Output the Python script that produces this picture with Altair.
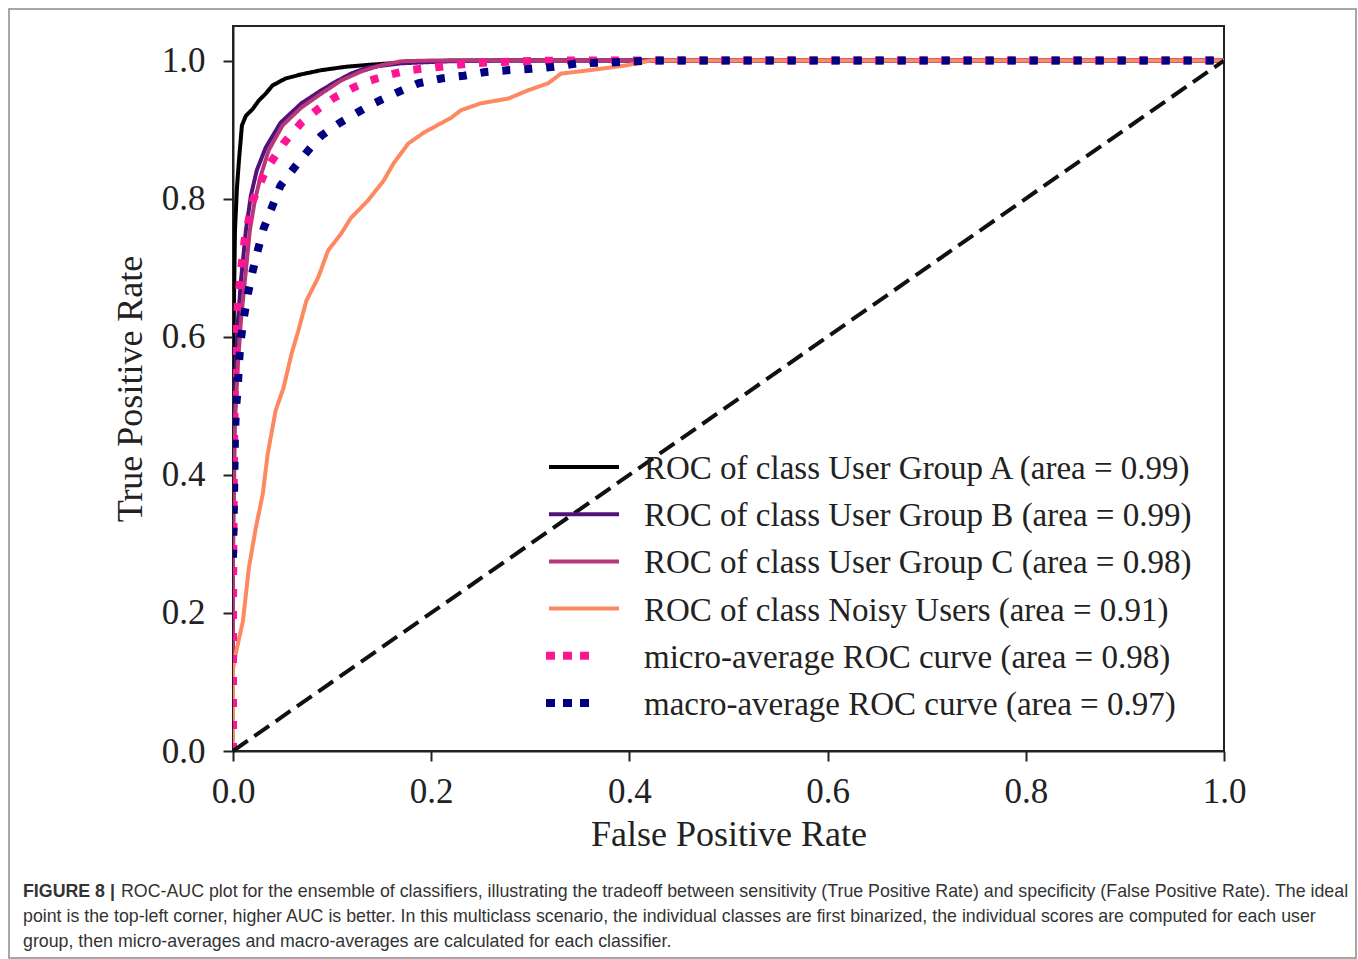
import altair as alt
import pandas as pd

# ROC curves of the ensemble: false positive rate / true positive rate per series
series_labels = [
    "ROC of class User Group A (area = 0.99)",
    "ROC of class User Group B (area = 0.99)",
    "ROC of class User Group C (area = 0.98)",
    "ROC of class Noisy Users (area = 0.91)",
    "micro-average ROC curve (area = 0.98)",
    "macro-average ROC curve (area = 0.97)",
]

fpr_a = [0.0, 0.0, 0.001, 0.002, 0.004, 0.006, 0.009, 0.013, 0.020, 0.026, 0.033, 0.040,
         0.053, 0.069, 0.089, 0.114, 0.139, 0.170, 0.220, 1.0]
tpr_a = [0.0, 0.507, 0.652, 0.754, 0.816, 0.855, 0.906, 0.920, 0.930, 0.942, 0.952, 0.964,
         0.974, 0.980, 0.986, 0.991, 0.994, 0.997, 1.0, 1.0]

fpr_b = [0.0, 0.0, 0.001, 0.003, 0.005, 0.008, 0.013, 0.018, 0.024, 0.033, 0.048, 0.069,
         0.086, 0.102, 0.119, 0.136, 0.170, 0.220, 0.270, 1.0]
tpr_b = [0.0, 0.362, 0.478, 0.561, 0.623, 0.681, 0.754, 0.804, 0.841, 0.874, 0.910, 0.938,
         0.954, 0.968, 0.981, 0.990, 0.996, 0.999, 1.0, 1.0]

fpr_c = [0.0, 0.0, 0.002, 0.005, 0.008, 0.012, 0.017, 0.022, 0.028, 0.036, 0.050, 0.069,
         0.089, 0.109, 0.129, 0.149, 0.170, 0.200, 1.0]
tpr_c = [0.0, 0.275, 0.478, 0.561, 0.623, 0.681, 0.754, 0.797, 0.833, 0.870, 0.906, 0.932,
         0.952, 0.971, 0.984, 0.993, 0.999, 1.0, 1.0]

fpr_noisy = [0.0, 0.0, 0.004, 0.010, 0.016, 0.023, 0.030, 0.035, 0.043, 0.051, 0.059, 0.066,
             0.074, 0.086, 0.096, 0.109, 0.119, 0.136, 0.152, 0.162, 0.177, 0.193, 0.220,
             0.230, 0.250, 0.278, 0.298, 0.318, 0.331, 0.371, 0.397, 0.422, 1.0]
tpr_noisy = [0.0, 0.120, 0.149, 0.188, 0.265, 0.323, 0.372, 0.430, 0.493, 0.526, 0.575, 0.609,
             0.652, 0.686, 0.725, 0.749, 0.772, 0.797, 0.826, 0.851, 0.880, 0.896, 0.917,
             0.928, 0.938, 0.945, 0.957, 0.967, 0.981, 0.988, 0.993, 1.0, 1.0]

fpr_micro = [0.0, 0.0, 0.001, 0.002, 0.003, 0.005, 0.008, 0.012, 0.020, 0.033, 0.051, 0.069,
             0.086, 0.102, 0.119, 0.136, 0.154, 0.177, 0.203, 0.240, 0.290, 0.330, 1.0]
tpr_micro = [0.0, 0.217, 0.435, 0.536, 0.594, 0.652, 0.696, 0.743, 0.797, 0.841, 0.880, 0.910,
             0.930, 0.946, 0.959, 0.970, 0.978, 0.986, 0.990, 0.996, 0.999, 1.0, 1.0]

fpr_macro = [0.0, 0.001, 0.002, 0.003, 0.005, 0.006, 0.008, 0.011, 0.015, 0.020, 0.025, 0.031,
             0.040, 0.048, 0.062, 0.076, 0.089, 0.107, 0.126, 0.142, 0.166, 0.187, 0.210,
             0.233, 0.253, 0.277, 0.301, 0.324, 0.348, 0.381, 0.422, 1.0]
tpr_macro = [0.280, 0.362, 0.459, 0.496, 0.529, 0.562, 0.597, 0.628, 0.662, 0.696, 0.725, 0.757,
             0.790, 0.819, 0.845, 0.870, 0.891, 0.909, 0.925, 0.938, 0.954, 0.967, 0.974,
             0.978, 0.983, 0.986, 0.988, 0.991, 0.996, 0.997, 1.0, 1.0]

chance_fpr = [0.0, 1.0]
chance_tpr = [0.0, 1.0]

line_colors = ["#000004", "#51127c", "#b73779", "#fc8961", "#ff1493", "#000080"]
dotted = [False, False, False, False, True, True]

caption_head = "FIGURE 8 |"
caption_lines = [
    "ROC-AUC plot for the ensemble of classifiers, illustrating the tradeoff between sensitivity "
    "(True Positive Rate) and specificity (False Positive Rate). The ideal",
    "point is the top-left corner, higher AUC is better. In this multiclass scenario, the individual "
    "classes are first binarized, the individual scores are computed for each user",
    "group, then micro-averages and macro-averages are calculated for each classifier.",
]

curves = [
    (fpr_a, tpr_a), (fpr_b, tpr_b), (fpr_c, tpr_c),
    (fpr_noisy, tpr_noisy), (fpr_micro, tpr_micro), (fpr_macro, tpr_macro),
]
rows = []
for label, (xs, ys) in zip(series_labels, curves):
    for i, (fx, ty) in enumerate(zip(xs, ys)):
        rows.append({"series": label, "fpr": fx, "tpr": ty, "step": i})
roc = pd.DataFrame(rows)

serif = "Liberation Serif"
tick_values = [0, 0.2, 0.4, 0.6, 0.8, 1.0]
x_enc = alt.X(
    "fpr:Q",
    scale=alt.Scale(domain=[0, 1.0], nice=False, zero=False),
    axis=alt.Axis(values=tick_values, format=".1f", title="False Positive Rate",
                  labelPadding=13, titlePadding=8, labelFlush=False),
)
y_enc = alt.Y(
    "tpr:Q",
    scale=alt.Scale(domain=[0, 1.05], nice=False, zero=False),
    axis=alt.Axis(values=tick_values, format=".1f", title="True Positive Rate",
                  labelPadding=18, titlePadding=12, labelFlush=False),
)

# one layer per curve, drawn in series order
curve_layers = []
for label, col, dot in zip(series_labels, line_colors, dotted):
    curve_layers.append(
        alt.Chart(roc)
        .transform_filter(alt.datum.series == label)
        .mark_line(color=col, strokeWidth=8 if dot else 4,
                   strokeDash=[8, 14] if dot else [1, 0], strokeCap="butt", clip=True)
        .encode(x=x_enc, y=y_enc, order=alt.Order("step:Q"))
    )

chance = (
    alt.Chart(pd.DataFrame({"fpr": chance_fpr, "tpr": chance_tpr}))
    .mark_line(color="#111111", strokeDash=[18, 8], strokeWidth=4, strokeCap="butt")
    .encode(x=x_enc, y=y_enc)
)
plot = alt.layer(*curve_layers, chance)

# legend drawn inside the axes
legend_df = pd.DataFrame({"series": series_labels, "dotted": dotted})
legend_y = alt.Y("series:N", axis=None,
                 scale=alt.Scale(type="point", domain=series_labels, range=[441, 677], padding=0))
legend_color = alt.Color("series:N", legend=None,
                         scale=alt.Scale(domain=series_labels, range=line_colors))
legend_solid = (
    alt.Chart(legend_df).transform_filter("!datum.dotted")
    .mark_rule(strokeWidth=4, strokeCap="butt")
    .encode(x=alt.value(316), x2=alt.value(386), y=legend_y, color=legend_color)
)
legend_dotted = (
    alt.Chart(legend_df).transform_filter("datum.dotted")
    .mark_rule(strokeWidth=8, strokeDash=[9, 8], strokeCap="butt")
    .encode(x=alt.value(313), x2=alt.value(356), y=legend_y, color=legend_color)
)
legend_text = (
    alt.Chart(legend_df)
    .mark_text(align="left", baseline="middle", font=serif, fontSize=33, color="#222222", dy=2)
    .encode(x=alt.value(411), y=legend_y, text="series:N")
)
legend = alt.layer(legend_solid, legend_dotted, legend_text)

# outer figure frame
frame = (
    alt.Chart(pd.DataFrame({"k": [0]}))
    .mark_rect(filled=False, stroke="#8a8a8a", strokeWidth=1.5)
    .encode(x=alt.value(-224), x2=alt.value(1123), y=alt.value(-17), y2=alt.value(932))
)

sans = "Liberation Sans"
caption_size = 17.8
caption_y = [866, 891, 916]
head = (
    alt.Chart(pd.DataFrame({"t": [caption_head]}))
    .mark_text(align="left", baseline="middle", font=sans, fontSize=caption_size,
               fontWeight="bold", color="#333333")
    .encode(x=alt.value(-210), y=alt.value(caption_y[0]), text="t:N")
)
caption_layers = [head]
for i, line in enumerate(caption_lines):
    caption_layers.append(
        alt.Chart(pd.DataFrame({"t": [line]}))
        .mark_text(align="left", baseline="middle", font=sans, fontSize=caption_size,
                   color="#333333")
        .encode(x=alt.value(-112 if i == 0 else -210), y=alt.value(caption_y[i]), text="t:N")
    )

chart = (
    alt.layer(plot, legend, frame, *caption_layers)
    .resolve_scale(y="independent", color="independent")
    .properties(width=991, height=725, background="white",
                padding={"left": 8, "top": 8, "right": 0, "bottom": 0})
    .configure_view(stroke="#222222", strokeWidth=2)
    .configure_axis(
        grid=False, domainColor="#222222", domainWidth=2, tickColor="#222222", tickWidth=2,
        tickSize=10, labelFont=serif, labelFontSize=35, labelColor="#222222",
        titleFont=serif, titleFontSize=36, titleFontWeight="normal", titleColor="#222222",
    )
)

chart.save("out.html", embed_options={"renderer": "svg", "actions": False})
